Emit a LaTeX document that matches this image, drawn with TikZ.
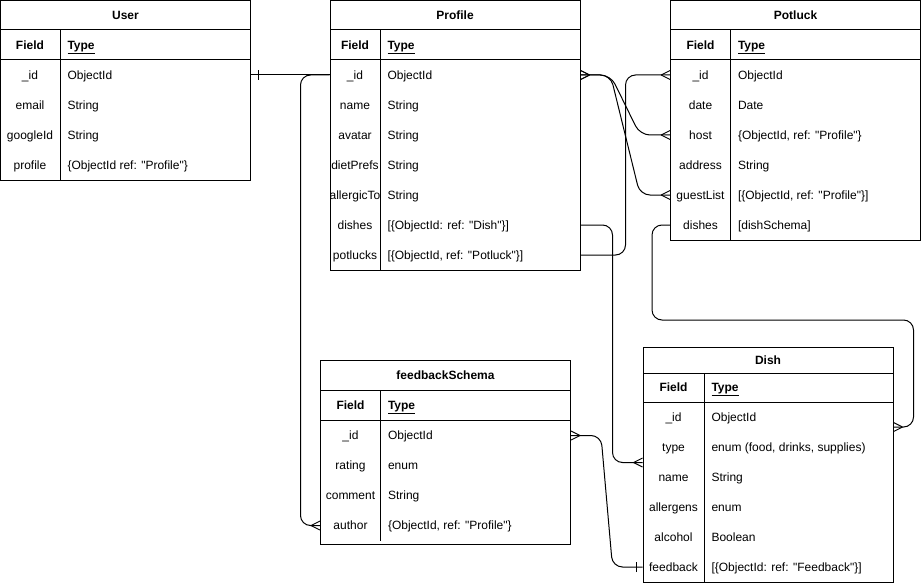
\documentclass[tikz,border=0pt]{standalone}
\usepackage{fontspec}
\newfontfamily\erfont{Liberation Sans}
\usetikzlibrary{calc, decorations.markings}

\begin{document}
\begin{tikzpicture}[
        x=1pt, y=-1pt, line width=1pt, font=\erfont\fontsize{12}{14}\selectfont,
        tbl/.style={draw=black, line width=1pt},
        rowbox/.style={minimum width=250pt, minimum height=30pt, inner sep=0pt},
        fld/.style={inner sep=0pt, text height=8.6pt, text depth=0pt},
        typ/.style={fld, anchor=west},
        ttl/.style={fld, font=\erfont\fontsize{12}{14}\selectfont\bfseries},
        htyp/.style={typ, font=\erfont\fontsize{12}{14}\selectfont\bfseries},
        conn/.style={draw=black, line width=1pt, rounded corners=10pt},
        manystart/.style={postaction={decorate, decoration={markings,
            mark=at position 9pt with {\draw[line width=0.9pt] (0,0) -- (-9pt,4.5pt) (0,0) -- (-9pt,-4.5pt);}}}},
        manyend/.style={postaction={decorate, decoration={markings,
            mark=at position -9pt with {\draw[line width=0.9pt] (0,0) -- (9pt,4.5pt) (0,0) -- (9pt,-4.5pt);}}}},
        onestart/.style={postaction={decorate, decoration={markings,
            mark=at position 7pt with {\draw[line width=0.9pt] (0,-5pt) -- (0,5pt);}}}},
        oneend/.style={postaction={decorate, decoration={markings,
            mark=at position -6pt with {\draw[line width=0.9pt] (0,-5pt) -- (0,5pt);}}}},
      ]
        \useasboundingbox (0,0) rectangle (923,583);

        % User
        \draw[tbl] (0.5,0.5) rectangle (250.5,180);
        \draw[tbl] (0.5,30) -- (250.5,30) (0.5,60) -- (250.5,60) (60,30) -- (60,180);
        \node[ttl] (user) at (125.5,15) {User};
        \node[ttl] (user-hf) at (30,45) {Field};
        \node[htyp] (user-ht) at (67,45) {\underline{Type}};
        \foreach \f/\t [count=\i] in {\_id/ObjectId, email/String, googleId/String,
            profile/{\{ObjectId ref: "Profile"\}}}{
          \node[rowbox] (user-\i) at (125.5,45+30*\i) {};
          \node[fld] (user-f\i) at (30,45+30*\i) {\f};
          \node[typ] (user-t\i) at (67,45+30*\i) {\t};
        }

        % Profile
        \draw[tbl] (330,0.5) rectangle (580,270);
        \draw[tbl] (330,30) -- (580,30) (330,60) -- (580,60) (380,30) -- (380,270);
        \node[ttl] (prof) at (455,15) {Profile};
        \node[ttl] (prof-hf) at (355,45) {Field};
        \node[htyp] (prof-ht) at (387,45) {\underline{Type}};
        \foreach \f/\t [count=\i] in {\_id/ObjectId, name/String, avatar/String,
            dietPrefs/String, allergicTo/String,
            dishes/{[\{ObjectId: ref: "Dish"\}]},
            potlucks/{[\{ObjectId, ref: "Potluck"\}]}}{
          \node[rowbox] (prof-\i) at (455,45+30*\i) {};
          \node[fld] (prof-f\i) at (355,45+30*\i) {\f};
          \node[typ] (prof-t\i) at (387,45+30*\i) {\t};
        }

        % Potluck
        \draw[tbl] (670.5,0.5) rectangle (920.5,240);
        \draw[tbl] (670.5,30) -- (920.5,30) (670.5,60) -- (920.5,60) (730.5,30) -- (730.5,240);
        \node[ttl] (pot) at (795.5,15) {Potluck};
        \node[ttl] (pot-hf) at (700.5,45) {Field};
        \node[htyp] (pot-ht) at (737.5,45) {\underline{Type}};
        \foreach \f/\t [count=\i] in {\_id/ObjectId, date/Date,
            host/{\{ObjectId, ref: "Profile"\}}, address/String,
            guestList/{[\{ObjectId, ref: "Profile"\}]}, dishes/{[dishSchema]}}{
          \node[rowbox] (pot-\i) at (795.5,45+30*\i) {};
          \node[fld] (pot-f\i) at (700.5,45+30*\i) {\f};
          \node[typ] (pot-t\i) at (737.5,45+30*\i) {\t};
        }

        % feedbackSchema
        \draw[tbl] (320.5,360.5) rectangle (570.5,544);
        \draw[tbl] (320.5,390.5) -- (570.5,390.5) (320.5,420.5) -- (570.5,420.5) (380.5,390.5) -- (380.5,541);
        \node[ttl] (fb) at (445.5,375.5) {feedbackSchema};
        \node[ttl] (fb-hf) at (350.5,405.5) {Field};
        \node[htyp] (fb-ht) at (387.5,405.5) {\underline{Type}};
        \foreach \f/\t [count=\i] in {\_id/ObjectId, rating/enum, comment/String,
            author/{\{ObjectId, ref: "Profile"\}}}{
          \node[rowbox] (fb-\i) at (445.5,405.5+30*\i) {};
          \node[fld] (fb-f\i) at (350.5,405.5+30*\i) {\f};
          \node[typ] (fb-t\i) at (387.5,405.5+30*\i) {\t};
        }

        % Dish
        \draw[tbl] (643,347) rectangle (893,582);
        \draw[tbl] (643,373) -- (893,373) (643,402) -- (893,402) (704,373) -- (704,582);
        \node[ttl] (dish) at (768,360) {Dish};
        \node[ttl] (dish-hf) at (673.5,387.5) {Field};
        \node[htyp] (dish-ht) at (711,387.5) {\underline{Type}};
        \foreach \f/\t [count=\i] in {\_id/ObjectId, type/{enum (food, drinks, supplies)},
            name/String, allergens/enum, alcohol/Boolean,
            feedback/{[\{ObjectId: ref: "Feedback"\}]}}{
          \node[rowbox] (dish-\i) at (768,387+30*\i) {};
          \node[fld] (dish-f\i) at (673.5,387+30*\i) {\f};
          \node[typ] (dish-t\i) at (711,387+30*\i) {\t};
        }

        % relations
        \draw[conn, onestart] (user-1.east) -- (prof-1.west);
        \draw[conn, manyend] (prof-1.west) -- ++(-29,0) |- (fb-4.west);
        \draw[conn, manystart, manyend] (prof-1.east) -- ++(30,0) -- ($(pot-3.west)+(-30,0)$) -- (pot-3.west);
        \draw[conn, manystart, manyend] (prof-1.east) -- ++(30,0) -- ($(pot-5.west)+(-30,0)$) -- (pot-5.west);
        \draw[conn, manyend] (prof-7.east) -- ++(45,0) |- (pot-1.west);
        \draw[conn, manyend] (prof-6.east) -- ++(32,0) |- (dish-2.south west);
        \coordinate (dishin) at ($(dish-1.east)+(0,10)$);
        \draw[conn, manyend] (pot-6.west) -- ++(-18,0) -- ++(0,95) -| ($(dishin)+(20,0)$) -- (dishin);
        \draw[conn, manystart, oneend] (fb-1.east) -- ++(30,0) -- ($(dish-6.west)+(-30,0)$) -- (dish-6.west);
      \end{tikzpicture}
\end{document}
